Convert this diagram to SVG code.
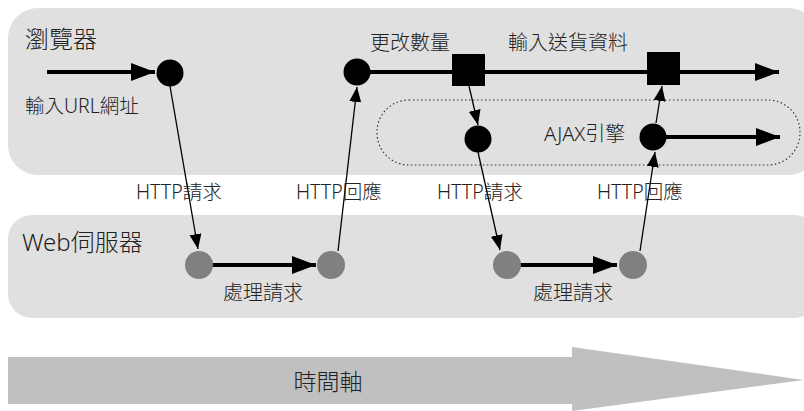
<svg xmlns="http://www.w3.org/2000/svg" width="804" height="411" viewBox="0 0 804 411">
<style>
.t{font-family:"Noto Sans","Noto Sans CJK TC",sans-serif;fill:#222;font-weight:300}
.thick{stroke:#000;stroke-width:4;fill:none}
.thin{stroke:#000;stroke-width:1.3;fill:none}
.b{fill:#000}
.g{fill:#808080}
</style>
<defs>
<marker id="ah" markerUnits="userSpaceOnUse" markerWidth="26" markerHeight="20" refX="24" refY="9" orient="auto">
<path d="M0,0 L24,9 L0,18 Z" fill="#000"/>
</marker>
<marker id="as" markerUnits="userSpaceOnUse" markerWidth="16" markerHeight="14" refX="15" refY="6" orient="auto">
<path d="M0,0 L15,6 L0,12 Z" fill="#000"/>
</marker>
</defs>
<g id="browser-panel">
<rect x="8" y="8" width="810" height="167" rx="30" fill="#e0e0e0"/>
<text class="t" x="25" y="48" font-size="24">瀏覽器</text>
</g>
<g id="server-panel">
<rect x="8" y="215" width="810" height="103" rx="24" fill="#e0e0e0"/>
<text class="t" x="22" y="251" font-size="24">Web伺服器</text>
</g>
<g id="ajax-engine">
<rect x="377" y="100" width="423" height="65" rx="32" fill="none" stroke="#333" stroke-width="1.2" stroke-dasharray="1.5,2.5"/>
<text class="t" x="544" y="141" font-size="20">AJAX引擎</text>
</g>
<g id="timeline">
<path d="M8,357 L572,357 L572,347 L804,380 L572,411 L572,404 L8,404 Z" fill="#c0c0c0"/>
<text class="t" x="328" y="390" font-size="23" text-anchor="middle">時間軸</text>
</g>
<g id="connectors">
<line class="thick" x1="47" y1="72" x2="155" y2="72" marker-end="url(#ah)"/>
<line class="thick" x1="360" y1="72" x2="779" y2="72" marker-end="url(#ah)"/>
<line class="thick" x1="660" y1="137" x2="780" y2="137" marker-end="url(#ah)"/>
<line class="thick" x1="205" y1="265" x2="316" y2="265" marker-end="url(#ah)"/>
<line class="thick" x1="512" y1="265" x2="617" y2="265" marker-end="url(#ah)"/>
<line class="thin" x1="170" y1="86" x2="198" y2="249" marker-end="url(#as)"/>
<line class="thin" x1="338" y1="251" x2="357" y2="87" marker-end="url(#as)"/>
<line class="thin" x1="469" y1="86" x2="478" y2="125" marker-end="url(#as)"/>
<line class="thin" x1="656" y1="123" x2="662" y2="86" marker-end="url(#as)"/>
<line class="thin" x1="478" y1="152" x2="500" y2="250" marker-end="url(#as)"/>
<line class="thin" x1="640" y1="251" x2="655" y2="152" marker-end="url(#as)"/>
</g>
<g id="node-start"><circle class="b" cx="170" cy="73" r="13.5"/></g>
<g id="label-url"><text class="t" x="25" y="113" font-size="19.5">輸入URL網址</text></g>
<g id="node-browser-2"><circle class="b" cx="357" cy="72" r="13.5"/></g>
<g id="node-square-1"><rect class="b" x="452" y="54" width="33" height="32"/>
<text class="t" x="370" y="50" font-size="20">更改數量</text></g>
<g id="node-square-2"><rect class="b" x="647" y="52" width="33" height="33"/>
<text class="t" x="508" y="50" font-size="20">輸入送貨資料</text></g>
<g id="node-ajax-1"><circle class="b" cx="478" cy="139" r="13.5"/></g>
<g id="node-ajax-2"><circle class="b" cx="653" cy="137" r="13.5"/></g>
<g id="node-server-a"><circle class="g" cx="199" cy="265" r="14"/></g>
<g id="node-server-b"><circle class="g" cx="331" cy="265" r="14"/></g>
<g id="node-server-c"><circle class="g" cx="507" cy="265" r="14"/></g>
<g id="node-server-d"><circle class="g" cx="633" cy="265" r="14"/></g>
<g id="labels">
<text class="t" x="136" y="199" font-size="19.5">HTTP請求</text>
<text class="t" x="296" y="199" font-size="19.5">HTTP回應</text>
<text class="t" x="437" y="199" font-size="19.5">HTTP請求</text>
<text class="t" x="597" y="199" font-size="19.5">HTTP回應</text>
<text class="t" x="263" y="300" font-size="20" text-anchor="middle">處理請求</text>
<text class="t" x="573" y="300" font-size="20" text-anchor="middle">處理請求</text>
</g>
</svg>
